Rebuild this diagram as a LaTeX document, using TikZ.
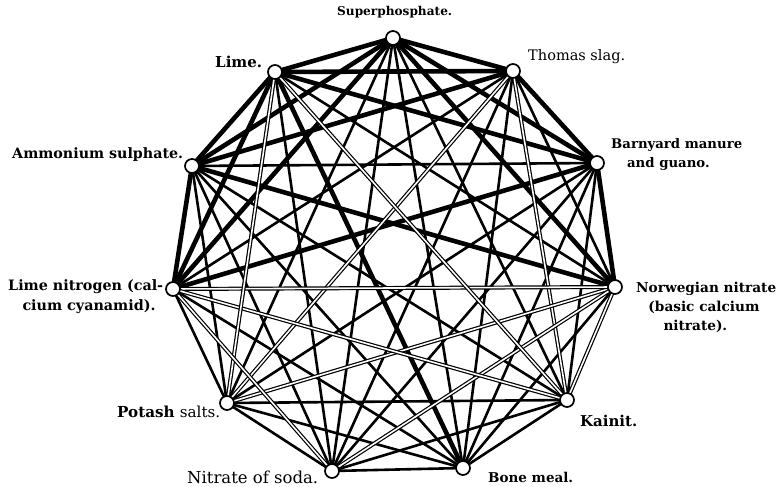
\documentclass[tikz,border=0pt]{standalone}
\usepackage{fontspec}
\usepackage{graphicx}
\setmainfont{DejaVu Serif}
\newcommand{\fitw}[2]{\resizebox{#1}{!}{#2}}
\newcommand{\lines}[1]{\begin{tabular}{@{}l@{}}#1\end{tabular}}
\begin{document}
\begin{tikzpicture}[x=1pt,y=-1pt,
  fert/.style={circle,draw,line width=1.7pt,fill=white,minimum size=14pt,inner sep=0pt},
  thk/.style={line width=4.6pt},
  thn/.style={line width=2.6pt},
  dbl/.style={double=white,line width=1.2pt,double distance=1.6pt},
  lab/.style={font=\bfseries,inner sep=0pt,anchor=west},
  labr/.style={inner sep=0pt,anchor=west}]
\useasboundingbox (0,0) rectangle (777,487);
\coordinate (S) at (393,38);
\coordinate (T) at (513,71);
\coordinate (B) at (597,163);
\coordinate (N) at (615,287);
\coordinate (K) at (567,400);
\coordinate (M) at (463,468);
\coordinate (C) at (332,471);
\coordinate (P) at (227,403);
\coordinate (L) at (173,289);
\coordinate (A) at (192,166);
\coordinate (Li) at (275,72);
% thin lines
\foreach \a/\b in {S/K,S/M,S/C,S/P,T/N,T/M,T/C,T/L,B/K,B/M,B/C,B/P,B/A,N/M,N/Li,K/M,K/C,K/P,K/A,M/C,M/P,M/L,M/A,C/P,C/A,C/Li,P/L,P/A}
  \draw[thn] (\a) -- (\b);
% thick lines
\foreach \a/\b in {S/T,S/B,S/N,S/L,S/A,S/Li,T/A,T/Li,T/B,B/L,B/Li,N/A,N/B,L/A,M/Li,A/Li,L/Li}
  \draw[thk] (\a) -- (\b);
% double lines
\foreach \a/\b in {T/P,T/K,N/P,N/K,N/C,N/L,K/L,K/Li,P/Li,C/L}
  \draw[dbl] (\a) -- (\b);
\foreach \n in {S,T,B,N,K,M,C,P,L,A,Li}
  \node[fert] (n\n) at (\n) {};
\node[lab] (tS) at (337,12) {\fitw{115pt}{Superphosphate.}};
\node[labr] (tT) at (528,57) {\fitw{97pt}{Thomas slag.}};
\node[lab] (tB) at (611,155) {\fitw{131pt}{\lines{Barnyard manure\\[2pt]\hspace*{12pt}and guano.}}};
\node[lab] (tN) at (636,308) {\fitw{140pt}{\lines{Norwegian nitrate\\[2pt]\hspace*{9pt}(basic calcium\\[2pt]\hspace*{20pt}nitrate).}}};
\node[lab] (tK) at (580,421) {\fitw{57pt}{Kainit.}};
\node[lab] (tM) at (488,477) {\fitw{85pt}{Bone meal.}};
\node[labr] (tC) at (187,477) {\fitw{131pt}{Nitrate of soda.}};
\node[lab] (tP) at (117,412) {\fitw{103pt}{Potash \mdseries salts.}};
\node[lab] (tL) at (8,297) {\fitw{155pt}{\lines{Lime nitrogen (cal-\\[2pt]\hspace*{10pt}cium cyanamid).}}};
\node[lab] (tA) at (12,155) {\fitw{171pt}{Ammonium sulphate.}};
\node[lab] (tLi) at (215,62) {\fitw{47pt}{Lime.}};
\end{tikzpicture}
\end{document}
